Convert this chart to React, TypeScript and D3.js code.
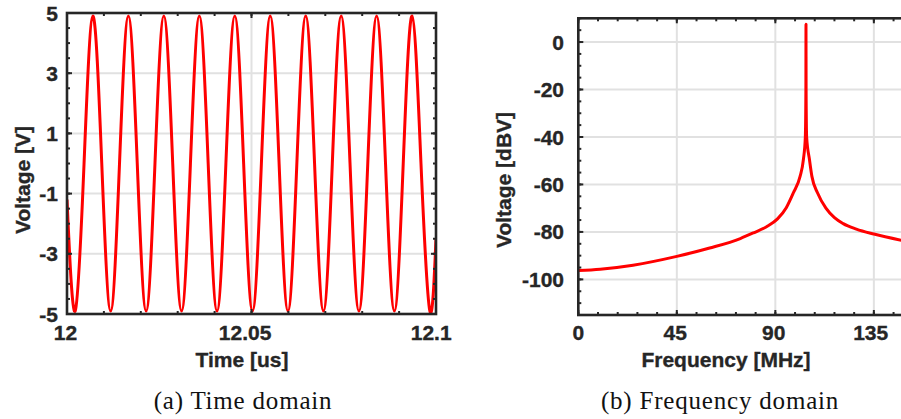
import React from 'react';
import * as d3 from 'd3';

// (a) time domain, samples read at the signal's extrema and zero crossings
const timeUs = [
  12.0, 12.00222, 12.00462, 12.00702, 12.00942, 12.01183, 12.01423, 12.01663, 12.01904,
  12.02144, 12.02384, 12.02624, 12.02865, 12.03105, 12.03345, 12.03586, 12.03826,
  12.04066, 12.04306, 12.04547, 12.04787, 12.05027, 12.05268, 12.05508, 12.05748,
  12.05988, 12.06229, 12.06469, 12.06709, 12.0695, 12.0719, 12.0743, 12.0767,
  12.07911, 12.08151, 12.08391, 12.08632, 12.08872, 12.09112, 12.09352, 12.09593,
  12.09833, 12.1,
];
const voltageV = [
  -1.2, -4.9, 0, 4.9, 0, -4.9, 0, 4.9, 0,
  -4.9, 0, 4.9, 0, -4.9, 0, 4.9, 0,
  -4.9, 0, 4.9, 0, -4.9, 0, 4.9, 0,
  -4.9, 0, 4.9, 0, -4.9, 0, 4.9, 0,
  -4.9, 0, 4.9, 0, -4.9, 0, 4.9, 0,
  -4.9, -2.5,
];
const timeTicks = [12, 12.05, 12.1];
const timeTickLabels = ['12', '12.05', '12.1'];
const voltTicks = [-5, -3, -1, 1, 3, 5];

// (b) frequency domain
const freqMHz = [
  0, 10, 25, 45, 60, 74, 80, 86, 91, 95, 98.2, 101.3, 102.8, 103.7, 103.95, 104.0,
  104.05, 104.3, 105.6, 106.7, 109.3, 113.1, 117, 121, 127, 135, 148,
];
const levelDbv = [
  -96.3, -95.7, -94.0, -90.3, -86.8, -82.8, -80.4, -77.8, -74.5, -69.8, -63.6, -56.6, -49.6, -40, -20, 7.5,
  -20, -40, -49.6, -56.6, -63.6, -70.0, -74.0, -76.5, -78.8, -80.9, -83.6,
];
const freqTicks = [0, 45, 90, 135];
const dbvTicks = [-100, -80, -60, -40, -20, 0];

const FONT = '"Liberation Sans", Arial, Helvetica, sans-serif';
const AXIS = '#262626';
const GRID = '#e1e1e1';
const FS = 21;

type PanelProps = {
  id: string;
  x: d3.ScaleLinear<number, number>;
  y: d3.ScaleLinear<number, number>;
  xs: number[];
  ys: number[];
  xTicks: number[];
  xLabels: string[];
  xMinor: number[];
  yTicks: number[];
  yMinor: number[];
  yLabelX: number;
  xTitle: string;
  yTitle: string;
  xTitleX: number;
  yTitleX: number;
  caption: string;
  captionX: number;
  curve: d3.CurveFactory;
};

const boldText = {
  fontFamily: FONT,
  fontWeight: 'bold' as const,
  fontSize: FS,
  fill: AXIS,
  stroke: AXIS,
  strokeWidth: 0.35,
};

const Panel = (p: PanelProps) => {
  const [x0, x1] = p.x.range();
  const [y0, y1] = p.y.range(); // y0 bottom, y1 top
  const line = d3
    .line<number>()
    .x((_, i) => p.x(p.xs[i]))
    .y((d) => p.y(d))
    .curve(p.curve);

  return (
    <g>
      <defs>
        <clipPath id={p.id}>
          <rect x={x0} y={y1} width={x1 - x0} height={y0 - y1} />
        </clipPath>
      </defs>
      {/* grid */}
      {p.yTicks.map((t) => (
        <line key={'gy' + t} x1={x0} x2={x1} y1={p.y(t)} y2={p.y(t)} stroke={GRID} strokeWidth={2} />
      ))}
      {p.xTicks.map((t) => (
        <line key={'gx' + t} x1={p.x(t)} x2={p.x(t)} y1={y0} y2={y1} stroke={GRID} strokeWidth={2} />
      ))}
      {/* data */}
      <path
        d={line(p.ys) || ''}
        fill="none"
        stroke="#ff0000"
        strokeWidth={3}
        strokeLinejoin="round"
        clipPath={`url(#${p.id})`}
      />
      {/* ticks, all four sides, pointing in */}
      {p.xMinor.map((t) => (
        <g key={'mx' + t}>
          <line x1={p.x(t)} x2={p.x(t)} y1={y0} y2={y0 - 3} stroke={AXIS} strokeWidth={2} />
          <line x1={p.x(t)} x2={p.x(t)} y1={y1} y2={y1 + 3} stroke={AXIS} strokeWidth={2} />
        </g>
      ))}
      {p.yMinor.map((t) => (
        <g key={'my' + t}>
          <line x1={x0} x2={x0 + 3} y1={p.y(t)} y2={p.y(t)} stroke={AXIS} strokeWidth={2} />
          <line x1={x1} x2={x1 - 3} y1={p.y(t)} y2={p.y(t)} stroke={AXIS} strokeWidth={2} />
        </g>
      ))}
      {p.xTicks.map((t) => (
        <g key={'tx' + t}>
          <line x1={p.x(t)} x2={p.x(t)} y1={y0} y2={y0 - 5} stroke={AXIS} strokeWidth={2} />
          <line x1={p.x(t)} x2={p.x(t)} y1={y1} y2={y1 + 5} stroke={AXIS} strokeWidth={2} />
        </g>
      ))}
      {p.yTicks.map((t) => (
        <g key={'ty' + t}>
          <line x1={x0} x2={x0 + 5} y1={p.y(t)} y2={p.y(t)} stroke={AXIS} strokeWidth={2} />
          <line x1={x1} x2={x1 - 5} y1={p.y(t)} y2={p.y(t)} stroke={AXIS} strokeWidth={2} />
        </g>
      ))}
      <rect x={x0} y={y1} width={x1 - x0} height={y0 - y1} fill="none" stroke={AXIS} strokeWidth={2.6} />
      {/* tick labels */}
      {p.xTicks.map((t, i) => (
        <text key={'lx' + t} x={p.x(t) - (p.xLabels[i].length - 1) * 1.6} y={340} textAnchor="middle" {...boldText}>
          {p.xLabels[i]}
        </text>
      ))}
      {p.yTicks.map((t) => (
        <text key={'ly' + t} x={p.yLabelX} y={p.y(t)} dy="0.36em" textAnchor="end" {...boldText}>
          {t}
        </text>
      ))}
      {/* axis titles */}
      <text x={p.xTitleX} y={366.5} textAnchor="middle" {...boldText}>
        {p.xTitle}
      </text>
      <text transform={`translate(${p.yTitleX},180) rotate(-90)`} textAnchor="middle" {...boldText}>
        {p.yTitle}
      </text>
      <text
        x={p.captionX}
        y={409}
        textAnchor="middle"
        fontFamily='"Liberation Serif", "Times New Roman", serif'
        fontSize={25}
        letterSpacing={0.8}
        fill="#111"
      >
        {p.caption}
      </text>
    </g>
  );
};

const App = () => {
  const xTime = d3.scaleLinear().domain([12, 12.1]).range([67, 436]);
  const yVolt = d3.scaleLinear().domain([-5, 5]).range([314, 13]);
  const xFreq = d3.scaleLinear().domain([0, 150]).range([578.3, 906.7]);
  const yDbv = d3.scaleLinear().domain([-115, 10]).range([315, 18.3]);

  return (
    <svg
      width={901}
      height={419}
      viewBox="0 0 901 419"
      style={{ position: 'absolute', left: 0, top: 0, background: '#fff' }}
    >
      <Panel
        id="clipA"
        x={xTime}
        y={yVolt}
        xs={timeUs}
        ys={voltageV}
        xTicks={timeTicks}
        xLabels={timeTickLabels}
        xMinor={d3.range(0, 11).map((i) => 12 + i * 0.01)}
        yTicks={voltTicks}
        yMinor={d3.range(0, 21).map((i) => -5 + i * 0.5)}
        yLabelX={58}
        xTitle="Time [us]"
        yTitle="Voltage [V]"
        xTitleX={242}
        yTitleX={30}
        caption="(a) Time domain"
        captionX={243}
        curve={d3.curveNatural}
      />
      <Panel
        id="clipB"
        x={xFreq}
        y={yDbv}
        xs={freqMHz}
        ys={levelDbv}
        xTicks={freqTicks}
        xLabels={freqTicks.map(String)}
        xMinor={d3.range(0, 17).map((i) => i * 9)}
        yTicks={dbvTicks}
        yMinor={d3.range(0, 26).map((i) => -115 + i * 5)}
        yLabelX={564}
        xTitle="Frequency [MHz]"
        yTitle="Voltage [dBV]"
        xTitleX={726}
        yTitleX={511}
        caption="(b) Frequency domain"
        captionX={720}
        curve={d3.curveMonotoneX}
      />
    </svg>
  );
};

export default App;
